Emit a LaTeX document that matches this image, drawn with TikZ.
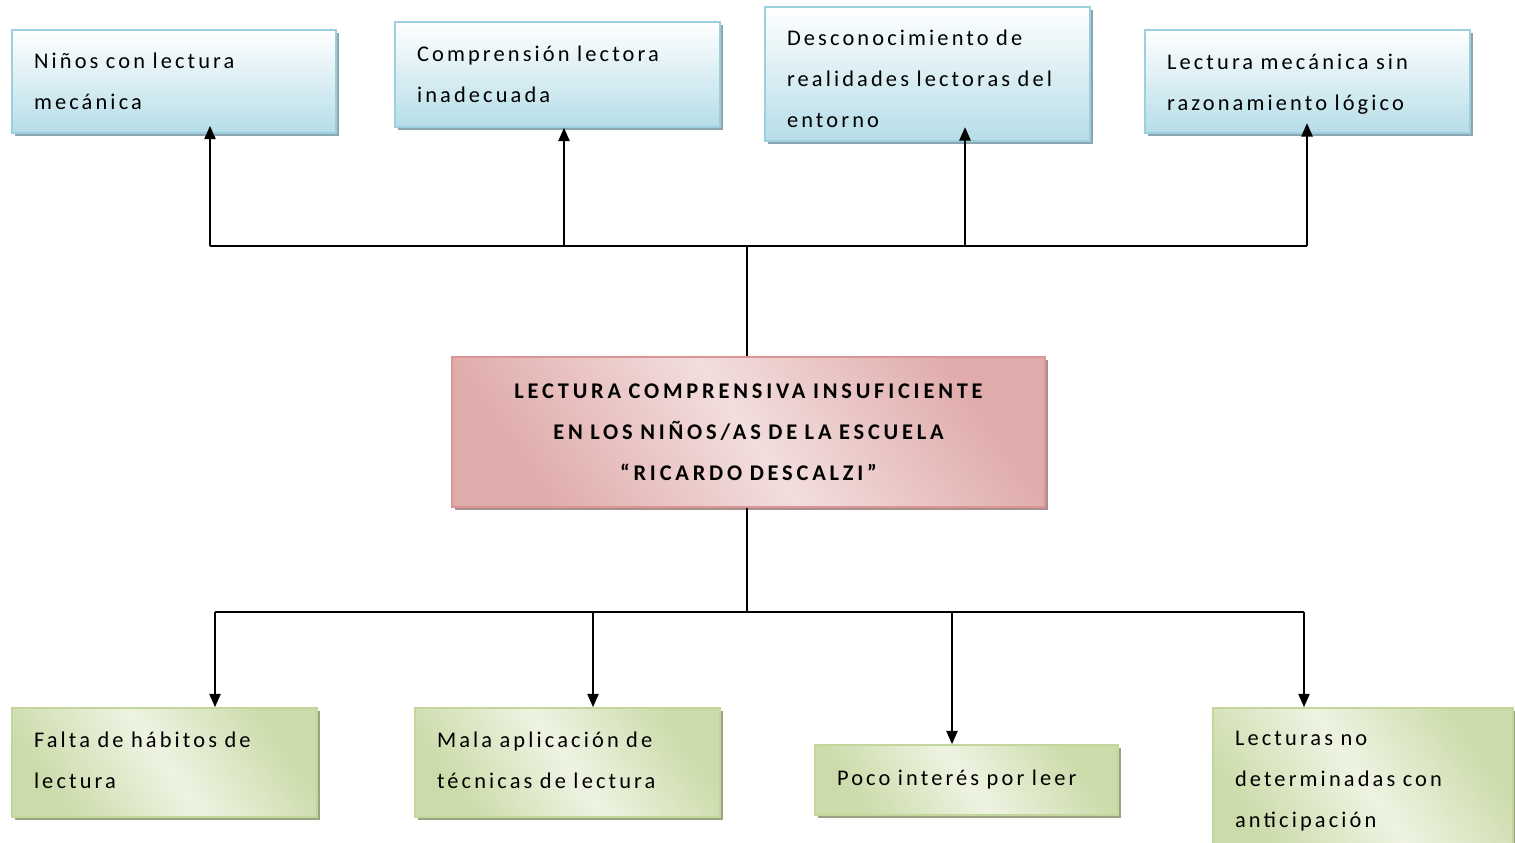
\documentclass[tikz,border=0pt]{standalone}
\usepackage{fontspec}
\setmainfont{Carlito}
\newfontfamily\bxfont{Carlito}[LetterSpace=14]
\newfontfamily\bxbfont{Carlito}[LetterSpace=17,BoldFont={* Bold}]
\usetikzlibrary{arrows.meta,shadows}
\definecolor{bluetop}{HTML}{FFFFFF}
\definecolor{bluebot}{HTML}{B6DDE8}
\definecolor{blueline}{HTML}{9CD0DE}
\definecolor{blueshad}{HTML}{8BA6B0}
\definecolor{redlight}{HTML}{F2DEDD}
\definecolor{reddark}{HTML}{E0ACAB}
\definecolor{redline}{HTML}{D99694}
\definecolor{redshad}{HTML}{A89090}
\definecolor{greenlight}{HTML}{EEF3E2}
\definecolor{greendark}{HTML}{CBDBA9}
\definecolor{greenline}{HTML}{C3D69B}
\definecolor{greenshad}{HTML}{9AA484}
\tikzset{
  x=0.75pt, y=-0.75pt,
  basebox/.style={line width=1.3pt, inner xsep=16.5pt, inner ysep=0pt, align=left,
    font=\bxfont\fontsize{16.8pt}{30.75pt}\selectfont, text=black},
  bluebox/.style={basebox, draw=blueline, top color=bluetop, bottom color=bluebot,
    drop shadow={shadow xshift=2.5pt, shadow yshift=-2.5pt, fill=blueshad, opacity=1}},
  redbox/.style={basebox, draw=redline, left color=reddark, right color=reddark, middle color=redlight,
    shading angle=125, align=center,
    drop shadow={shadow xshift=2.5pt, shadow yshift=-2.5pt, fill=redshad, opacity=1}},
  greenbox/.style={basebox, draw=greenline, left color=greendark, right color=greendark, middle color=greenlight,
    shading angle=125,
    drop shadow={shadow xshift=2.5pt, shadow yshift=-2.5pt, fill=greenshad, opacity=1}},
  conn/.style={line width=1.2pt, black},
  arr/.style={conn, -{Triangle[width=8.5pt,length=10pt]}}
}
\begin{document}
\begin{tikzpicture}
\clip (0,0) rectangle (1515,842);
\fill[white] (0,0) rectangle (1515,842);
% top boxes
\node[bluebox, text width=210pt, minimum height=77.25pt] (A) at (174,81.5) {Niños con lectura\\mecánica};
\node[bluebox, text width=210.75pt, minimum height=78.75pt] (B) at (557.5,74.5) {Comprensión lectora\\inadecuada};
\node[bluebox, text width=210.75pt, minimum height=100.5pt] (C) at (927.5,74) {\rule{0pt}{19pt}Desconocimiento de\\realidades lectoras del\\entorno};
\node[bluebox, text width=210.75pt, minimum height=77.25pt] (D) at (1307.5,81.5) {\rule{0pt}{16pt}Lectura mecánica sin\\razonamiento lógico};
% center
\node[redbox, text width=411.75pt, minimum height=112.5pt, font=\bxbfont\bfseries\fontsize{16.8pt}{30.75pt}\selectfont] (M) at (748.5,432)
  {LECTURA COMPRENSIVA INSUFICIENTE\\EN LOS NIÑOS/AS DE LA ESCUELA\\“RICARDO DESCALZI”};
% bottom boxes
\node[greenbox, text width=195.75pt, minimum height=81.75pt] (E) at (164.5,762.5) {Falta de hábitos de\\lectura\rule[-3pt]{0pt}{3pt}};
\node[greenbox, text width=195.75pt, minimum height=81.75pt] (F) at (567.5,762.5) {Mala aplicación de\\técnicas de lectura\rule[-3pt]{0pt}{3pt}};
\node[greenbox, text width=194.25pt, minimum height=52.5pt] (G) at (966.5,780) {Poco interés por leer\rule[-3pt]{0pt}{3pt}};
\node[greenbox, text width=192pt, minimum height=110.25pt] (H) at (1363,781.5) {Lecturas no\\determinadas con\\anticipación};
% top bus
\coordinate (ta) at (210,246);
\coordinate (tb) at (564,246);
\coordinate (tc) at (965,246);
\coordinate (td) at (1307,246);
\draw[conn] (ta) -- (td);
\draw[conn] (M.north -| 747,0) -- (747,246);
\draw[arr] (ta) -- ([yshift=6pt]A.south -| ta);
\draw[arr] (tb) -- (B.south -| tb);
\draw[arr] (tc) -- ([yshift=11pt]C.south -| tc);
\draw[arr] (td) -- ([yshift=8pt]D.south -| td);
% bottom bus
\coordinate (ba) at (215,612);
\coordinate (bb) at (593,612);
\coordinate (bc) at (952,612);
\coordinate (bd) at (1304,612);
\draw[conn] (ba) -- (bd);
\draw[conn] (M.south -| 747,0) -- (747,612);
\draw[arr] (ba) -- (E.north -| ba);
\draw[arr] (bb) -- (F.north -| bb);
\draw[arr] (bc) -- (G.north -| bc);
\draw[arr] (bd) -- (H.north -| bd);
\end{tikzpicture}
\end{document}
